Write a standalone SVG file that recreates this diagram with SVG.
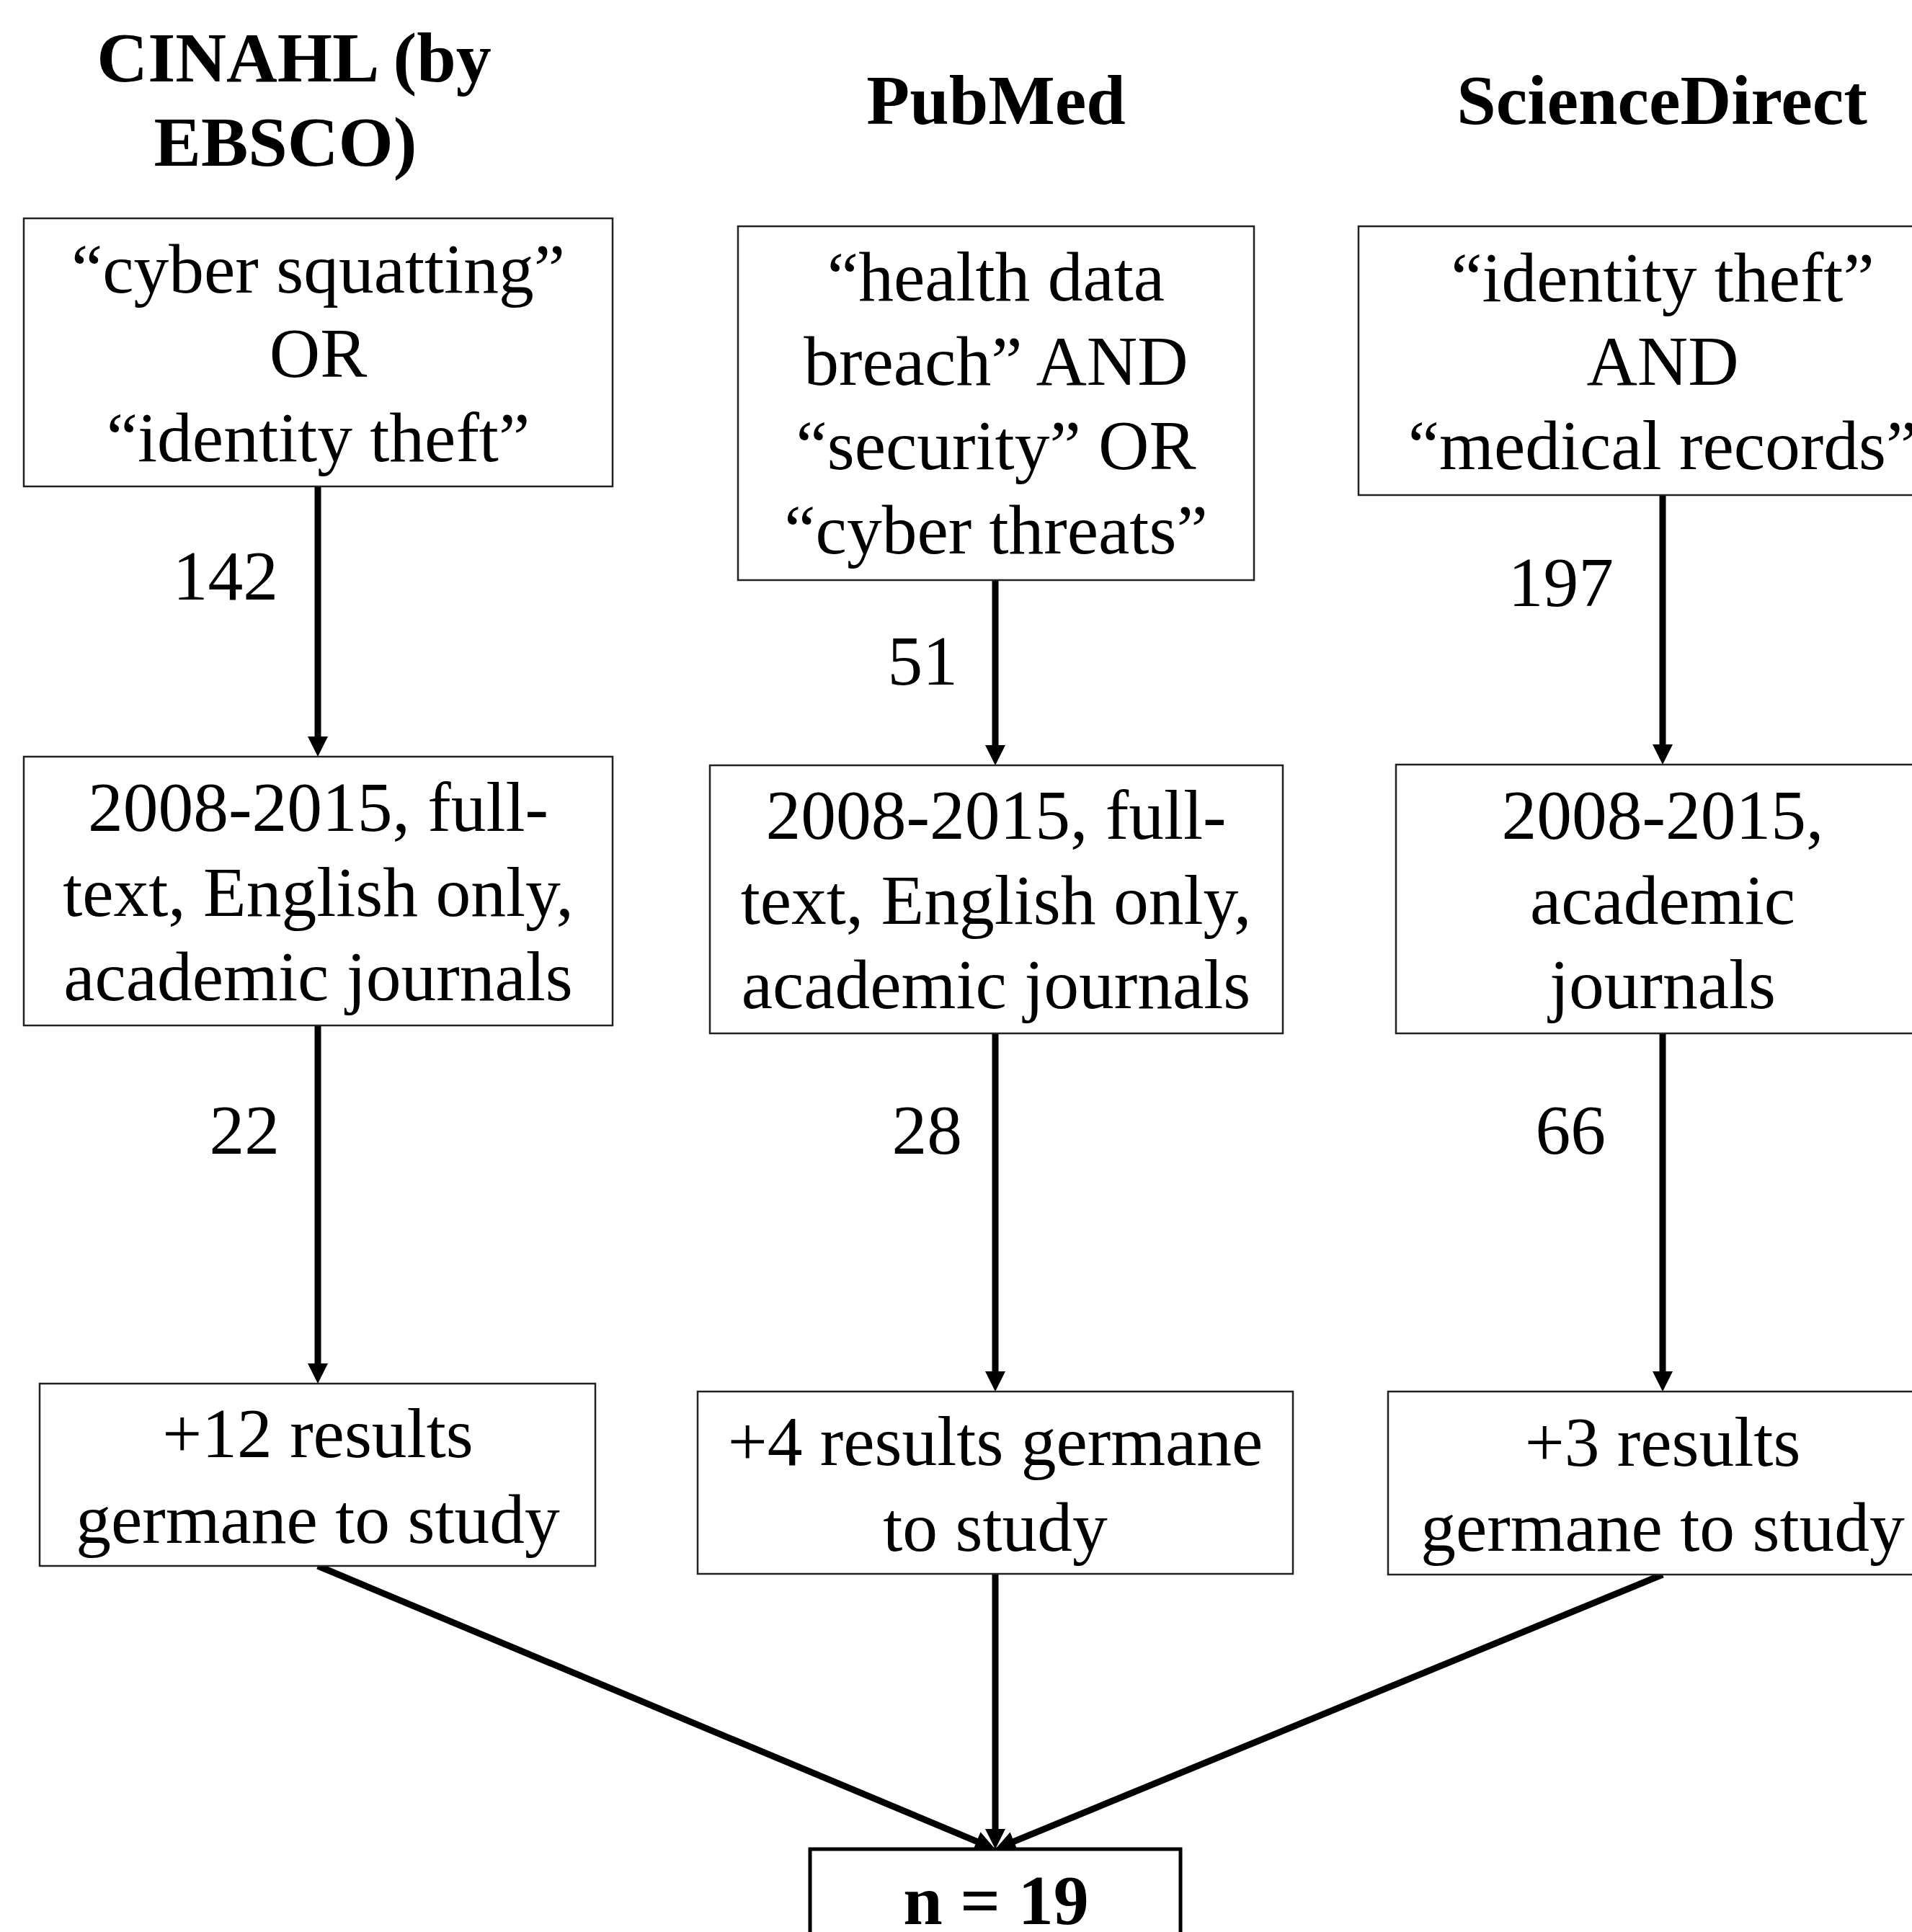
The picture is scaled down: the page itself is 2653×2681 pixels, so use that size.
<svg xmlns="http://www.w3.org/2000/svg" width="2653" height="2681" viewBox="0 0 2653 2681">
<style>
.bg { fill: #fff; }
.box { fill: #fff; stroke: #222; stroke-width: 2.5; }
.boxb { fill: #fff; stroke: #000; stroke-width: 5; }
.t { font-family: "Liberation Serif", "Times New Roman", serif; font-size: 97.5px; fill: #000; text-anchor: middle; }
.h { font-family: "Liberation Serif", "Times New Roman", serif; font-size: 98px; font-weight: bold; fill: #000; text-anchor: middle; }
.lbl { font-family: "Liberation Serif", "Times New Roman", serif; font-size: 97.5px; fill: #000; text-anchor: end; }
.conn { stroke: #000; stroke-width: 9; fill: none; }
</style>
<defs>
<marker id="arr" markerUnits="userSpaceOnUse" markerWidth="30" markerHeight="30" refX="8" refY="14" orient="auto" overflow="visible">
<path d="M0,0 L28,14 L0,28 z" fill="#000"/>
</marker>
</defs>
<rect class="bg" x="0" y="0" width="2653" height="2681"/>

<g id="titles">
<text class="h" x="408" y="113">CINAHL (by</text>
<text class="h" x="396" y="230">EBSCO)</text>
<text class="h" x="1382" y="172">PubMed</text>
<text class="h" x="2306" y="172">ScienceDirect</text>
</g>

<g id="connectors">
<line class="conn" x1="441" y1="675" x2="441" y2="1030" marker-end="url(#arr)"/>
<line class="conn" x1="441" y1="1423" x2="441" y2="1900" marker-end="url(#arr)"/>
<line class="conn" x1="1381" y1="805" x2="1381" y2="1042" marker-end="url(#arr)"/>
<line class="conn" x1="1381" y1="1434" x2="1381" y2="1911" marker-end="url(#arr)"/>
<line class="conn" x1="2307" y1="687" x2="2307" y2="1041" marker-end="url(#arr)"/>
<line class="conn" x1="2307" y1="1434" x2="2307" y2="1911" marker-end="url(#arr)"/>
<line class="conn" x1="441" y1="2173" x2="1362.5" y2="2558.3" marker-end="url(#arr)"/>
<line class="conn" x1="1381" y1="2184" x2="1381" y2="2546" marker-end="url(#arr)"/>
<line class="conn" x1="2307" y1="2185" x2="1399.5" y2="2558.4" marker-end="url(#arr)"/>
<text class="lbl" x="386" y="832">142</text>
<text class="lbl" x="388" y="1601">22</text>
<text class="lbl" x="1329" y="950">51</text>
<text class="lbl" x="1335" y="1601">28</text>
<text class="lbl" x="2239" y="841">197</text>
<text class="lbl" x="2228" y="1601">66</text>
</g>

<g id="cinahl-query">
<rect class="box" x="33" y="303" width="817" height="372"/>
<text class="t" x="441.5" y="406">“cyber squatting”</text>
<text class="t" x="441.5" y="523">OR</text>
<text class="t" x="441.5" y="640">“identity theft”</text>
</g>

<g id="cinahl-filter">
<rect class="box" x="33" y="1050" width="817" height="373"/>
<text class="t" x="441.5" y="1153">2008-2015, full-</text>
<text class="t" x="441.5" y="1271">text, English only,</text>
<text class="t" x="441.5" y="1388">academic journals</text>
</g>

<g id="cinahl-result">
<rect class="box" x="55" y="1920" width="771" height="253"/>
<text class="t" x="441" y="2022">+12 results</text>
<text class="t" x="441" y="2141">germane to study</text>
</g>

<g id="pubmed-query">
<rect class="box" x="1024" y="314" width="716" height="491"/>
<text class="t" x="1382" y="417">“health data</text>
<text class="t" x="1382" y="534">breach” AND</text>
<text class="t" x="1382" y="651">“security” OR</text>
<text class="t" x="1382" y="768">“cyber threats”</text>
</g>

<g id="pubmed-filter">
<rect class="box" x="985" y="1062" width="795" height="372"/>
<text class="t" x="1382" y="1164">2008-2015, full-</text>
<text class="t" x="1382" y="1282">text, English only,</text>
<text class="t" x="1382" y="1399">academic journals</text>
</g>

<g id="pubmed-result">
<rect class="box" x="968" y="1931" width="826" height="253"/>
<text class="t" x="1381" y="2033">+4 results germane</text>
<text class="t" x="1381" y="2152">to study</text>
</g>

<g id="sd-query">
<rect class="box" x="1885" y="314" width="820" height="373"/>
<text class="t" x="2307" y="418">“identity theft”</text>
<text class="t" x="2307" y="534">AND</text>
<text class="t" x="2307" y="651">“medical records”</text>
</g>

<g id="sd-filter">
<rect class="box" x="1937" y="1061" width="770" height="373"/>
<text class="t" x="2307" y="1164">2008-2015,</text>
<text class="t" x="2307" y="1282">academic</text>
<text class="t" x="2307" y="1399">journals</text>
</g>

<g id="sd-result">
<rect class="box" x="1926" y="1931" width="780" height="254"/>
<text class="t" x="2307" y="2034">+3 results</text>
<text class="t" x="2307" y="2152">germane to study</text>
</g>

<g id="total">
<rect class="boxb" x="1124" y="2566" width="514" height="200"/>
<text class="h" x="1382" y="2670">n = 19</text>
</g>
</svg>
